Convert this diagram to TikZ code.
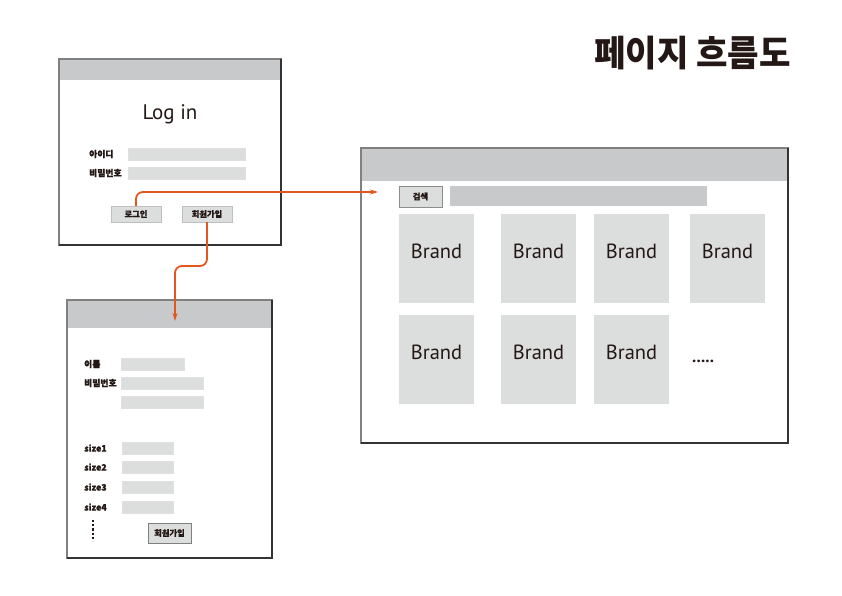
\documentclass[tikz,border=0pt]{standalone}
\usepackage{fontspec}
\setmainfont{PT Sans}
\newfontfamily\kr[BoldFeatures={FakeBold=1.2}]{Noto Sans CJK KR}
\newfontfamily\krtitle[BoldFeatures={FakeStretch=0.95}]{Noto Sans CJK KR}
\usetikzlibrary{arrows.meta}
\tikzset{>={Stealth[length=8pt, width=5pt]}}
\definecolor{ink}{HTML}{231815}
\definecolor{barc}{HTML}{C8C9CB}
\definecolor{fieldc}{HTML}{DCDDDD}
\definecolor{flow}{HTML}{E5561F}

\begin{document}
\begin{tikzpicture}[x=1pt, y=-1pt, text=ink,
		win/.style={rectangle, draw=black!50, fill=white, line width=2pt, anchor=north west, inner sep=0pt, outer sep=0pt},
		shade/.style={draw=black!80, line width=2pt},
		bar/.style={rectangle, fill=barc, anchor=north west, inner sep=0pt, outer sep=0pt},
		field/.style={rectangle, fill=fieldc, draw=black!12, line width=0.6pt, anchor=north west, inner sep=0pt, outer sep=0pt, minimum height=12pt},
		btn/.style={field, draw=black!25, font=\kr\bfseries\fontsize{8.3}{9}\selectfont},
		lbl/.style={anchor=west, inner sep=0pt, font=\kr\bfseries\fontsize{8.8}{10}\selectfont},
		brand/.style={rectangle, fill=fieldc, anchor=north west, inner sep=0pt, outer sep=0pt, minimum width=75pt, minimum height=89pt},
		brandtxt/.style={inner sep=0pt, font=\fontsize{20.5}{24}\selectfont},
		link/.style={flow, line width=1.8pt, rounded corners=7pt}]
		\path[use as bounding box, fill=white] (0,0) rectangle (842,596);
		
		\node[anchor=east, inner sep=0pt, font=\krtitle\bfseries\fontsize{36}{40}\selectfont] (title) at (791,53) {페이지 흐름도};
		
		% log in
		\node[win, minimum width=222pt, minimum height=186pt] (login) at (59,59) {};
		\node[bar, minimum width=220pt, minimum height=20pt] (loginbar) at (60,60) {};
		\draw[shade] (login.north east) -- (login.south east) -- (login.south west);
		\node[font=\fontsize{21}{24}\selectfont, inner sep=0pt] (logintitle) at (170,114) {Log in};
		\node[lbl] (idlabel) at (89,154) {아이디};
		\node[field, minimum width=117pt] (idfield) at (128,148) {};
		\node[lbl] (pwlabel) at (89,173) {비밀번호};
		\node[field, minimum width=117pt] (pwfield) at (128,167) {};
		\node[btn, minimum width=50pt, minimum height=16pt] (loginbtn) at (111,206) {로그인};
		\node[btn, minimum width=50pt, minimum height=16pt] (joinbtn) at (182,206) {회원가입};
		
		% sign up
		\node[win, minimum width=205pt, minimum height=258pt] (signup) at (67,300) {};
		\node[bar, minimum width=203pt, minimum height=27pt] (signupbar) at (68,301) {};
		\draw[shade] (signup.north east) -- (signup.south east) -- (signup.south west);
		\node[lbl] (namelabel) at (84,364) {이름};
		\node[field, minimum width=63pt] (namefield) at (121,358) {};
		\node[lbl] (spwlabel) at (84,383) {비밀번호};
		\node[field, minimum width=82pt] (spwfield) at (121,377) {};
		\node[field, minimum width=82pt] (spwcheck) at (121,396) {};
		\node[lbl] (size1label) at (84,448) {size1};
		\node[field, minimum width=51pt] (size1field) at (122,442) {};
		\node[lbl] (size2label) at (84,467) {size2};
		\node[field, minimum width=51pt] (size2field) at (122,461) {};
		\node[lbl] (size3label) at (84,487) {size3};
		\node[field, minimum width=51pt] (size3field) at (122,481) {};
		\node[lbl] (size4label) at (84,507) {size4};
		\node[field, minimum width=51pt] (size4field) at (122,501) {};
		\draw[ink, line width=2.4pt, dash pattern=on 2.2pt off 2pt] (93,520) -- (93,541);
		\node[btn, draw=black!50, minimum width=43pt, minimum height=20pt] (signupbtn) at (148,523) {회원가입};
		
		% brand list
		\node[win, minimum width=427pt, minimum height=295pt] (main) at (361,148) {};
		\node[bar, minimum width=425pt, minimum height=32pt] (mainbar) at (362,149) {};
		\draw[shade] (main.north east) -- (main.south east) -- (main.south west);
		\node[btn, draw=black!45, minimum width=43pt, minimum height=21pt] (searchbtn) at (399,186) {검색};
		\node[bar, minimum width=257pt, minimum height=20pt] (searchfield) at (450,186) {};
		\node[brand] (brand1) at (399,214) {};
		\node[brand] (brand2) at (501,214) {};
		\node[brand] (brand3) at (594,214) {};
		\node[brand] (brand4) at (690,214) {};
		\node[brand] (brand5) at (399,315) {};
		\node[brand] (brand6) at (501,315) {};
		\node[brand] (brand7) at (594,315) {};
		\node[brandtxt] at ([yshift=7pt]brand1.center) {Brand};
		\node[brandtxt] at ([yshift=7pt]brand2.center) {Brand};
		\node[brandtxt] at ([yshift=7pt]brand3.center) {Brand};
		\node[brandtxt] at ([yshift=7pt]brand4.center) {Brand};
		\node[brandtxt] at ([yshift=7pt]brand5.center) {Brand};
		\node[brandtxt] at ([yshift=7pt]brand6.center) {Brand};
		\node[brandtxt] at ([yshift=7pt]brand7.center) {Brand};
		\node[anchor=base west, inner sep=0pt, font=\bfseries\fontsize{17}{20}\selectfont] (more) at (692,362) {.....};
		
		\coordinate (mainin) at (378,192);
		\coordinate (bend) at (190,266);
		\coordinate (signupin) at (175,321);
		\draw[link, ->] (loginbtn.north) |- (mainin);
		\draw[link, ->] (joinbtn.south) |- (bend) -| (signupin);
		
	\end{tikzpicture}
\end{document}
